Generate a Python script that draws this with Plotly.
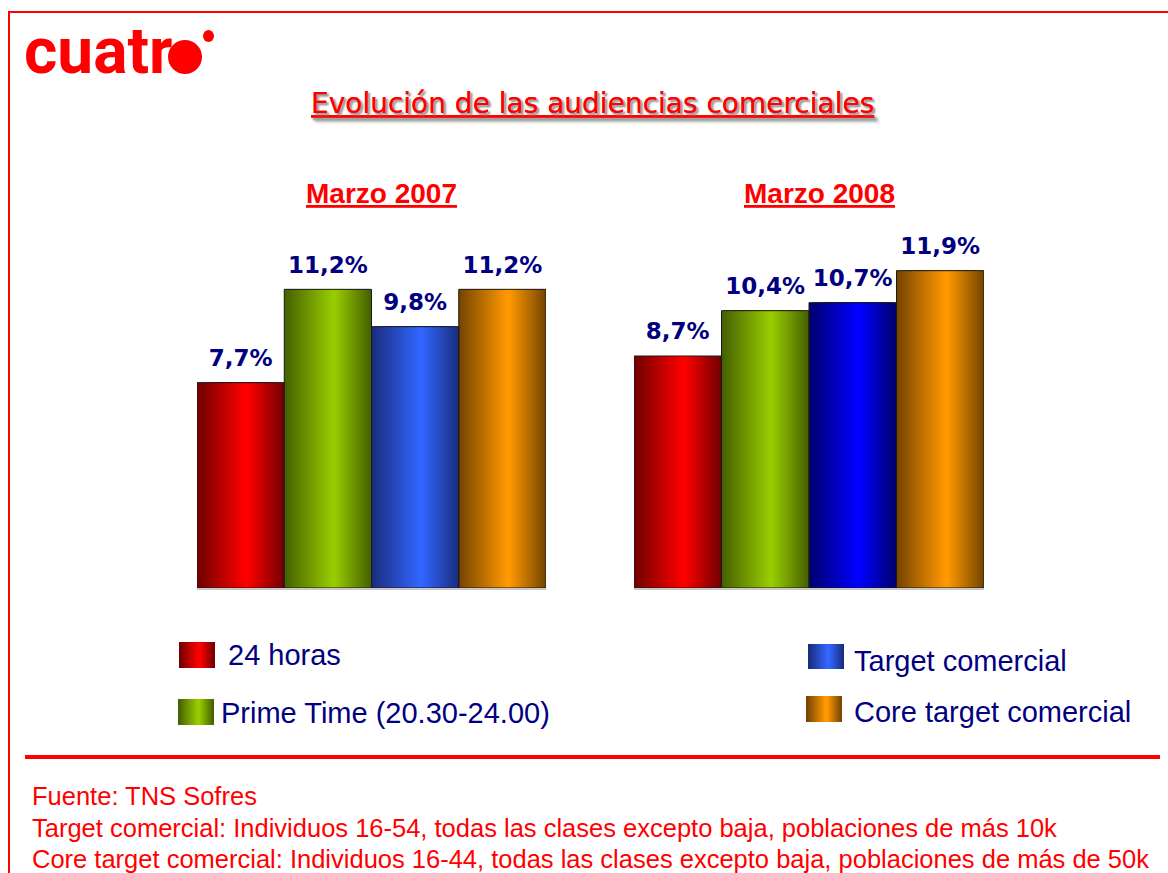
import plotly.graph_objects as go

W, H = 1168, 873

# ---------------- data ----------------
categories = ["24 horas", "Prime Time (20.30-24.00)", "Target comercial", "Core target comercial"]
values_2007 = [7.7, 11.2, 9.8, 11.2]
values_2008 = [8.7, 10.4, 10.7, 11.9]
period_titles = ["Marzo 2007", "Marzo 2008"]
footer_lines = [
    "Fuente: TNS Sofres",
    "Target comercial: Individuos 16-54, todas las clases excepto baja, poblaciones de más 10k",
    "Core target comercial: Individuos 16-44, todas las clases excepto baja, poblaciones de más de 50k",
]

# gradient colours (edge, centre) per series
dark_2007 = [(115, 0, 0), (70, 98, 0), (26, 46, 128), (120, 70, 0)]
bright_2007 = [(255, 0, 0), (153, 204, 0), (51, 102, 255), (255, 153, 0)]
dark_2008 = [(115, 0, 0), (70, 98, 0), (0, 0, 112), (120, 70, 0)]
bright_2008 = [(255, 0, 0), (153, 204, 0), (0, 0, 255), (255, 153, 0)]

RED = "#ff0000"
NAVY = "#000080"


def px(x):
    return x / W


def py(y):
    return 1 - y / H


def mix(a, b, t):
    return "rgb(%d,%d,%d)" % tuple(round(a[i] + (b[i] - a[i]) * t) for i in range(3))


def fmt(v):
    return ("%.1f" % v).replace(".", ",") + "%"


fig = go.Figure()

N = 22
CEN = 0.57
for vals, darks, brights, xa, ya in [
    (values_2007, dark_2007, bright_2007, "x", "y"),
    (values_2008, dark_2008, bright_2008, "x2", "y2"),
]:
    for k in range(N):
        t = k / (N - 1)
        a = CEN * k / N
        b = 1 - (1 - CEN) * k / N
        fig.add_trace(go.Bar(
            x=categories, y=vals,
            width=[b - a] * len(vals), offset=[a - 0.5] * len(vals),
            marker=dict(color=[mix(d, br, t) for d, br in zip(darks, brights)], line=dict(width=0)),
            xaxis=xa, yaxis=ya, hoverinfo="skip", showlegend=False,
        ))
    # outline
    fig.add_trace(go.Bar(
        x=categories, y=vals, width=[1] * len(vals), offset=[-0.5] * len(vals),
        marker=dict(color="rgba(0,0,0,0)", line=dict(color="#1a1a1a", width=1)),
        xaxis=xa, yaxis=ya, showlegend=False,
    ))
    # value labels
    fig.add_trace(go.Scatter(
        x=categories, y=vals, mode="markers+text",
        text=[fmt(v) for v in vals], textposition="top center",
        marker=dict(size=16, opacity=0),
        textfont=dict(family="DejaVu Sans", size=23, color=NAVY, weight="bold"),
        cliponaxis=False, xaxis=xa, yaxis=ya, showlegend=False, hoverinfo="skip",
    ))

ydom = [py(588), py(228)]
axis_x = dict(showticklabels=False, showgrid=False, zeroline=False, showline=True,
              linecolor="#c8c8c8", linewidth=2, ticks="", fixedrange=True)
axis_y = dict(visible=False, range=[0, 13.5], domain=ydom, fixedrange=True)

fig.update_layout(
    width=W, height=H, margin=dict(l=0, r=0, t=0, b=0),
    paper_bgcolor="white", plot_bgcolor="white",
    barmode="overlay", showlegend=False,
    xaxis=dict(domain=[px(197), px(546)], anchor="y", **axis_x),
    yaxis=dict(anchor="x", **axis_y),
    xaxis2=dict(domain=[px(634), px(984)], anchor="y2", **axis_x),
    yaxis2=dict(anchor="x2", **axis_y),
)

ann = []
shapes = []

# frame
shapes.append(dict(type="rect", xref="paper", yref="paper", x0=px(9), x1=1.02, y0=-0.02, y1=py(12),
                   line=dict(color=RED, width=2), fillcolor="rgba(0,0,0,0)", layer="below"))
# separator
shapes.append(dict(type="line", xref="paper", yref="paper", x0=px(25), x1=px(1160), y0=py(757), y1=py(757),
                   line=dict(color=RED, width=4)))

# logo
ann.append(dict(text="cuatr", x=px(22), y=py(51), xanchor="left", yanchor="middle",
                font=dict(family="Roboto", size=64, color=RED, weight="bold")))
shapes.append(dict(type="circle", xref="paper", yref="paper", x0=px(168), x1=px(202), y0=py(74), y1=py(40),
                   fillcolor=RED, line=dict(width=0)))
shapes.append(dict(type="circle", xref="paper", yref="paper", x0=px(203), x1=px(214), y0=py(42), y1=py(30),
                   fillcolor=RED, line=dict(width=0)))

# title
ann.append(dict(text="<u>Evolución de las audiencias comerciales</u>", x=px(592), y=py(103),
                xanchor="center", yanchor="middle",
                font=dict(family="DejaVu Sans", size=28, color=RED, shadow="2px 2px 2px #a0a0a0")))

# period headers
for t, cx in zip(period_titles, [381, 819]):
    ann.append(dict(text="<u>" + t + "</u>", x=px(cx), y=py(193), xanchor="center", yanchor="middle",
                    font=dict(family="Liberation Sans", size=28, color=RED, weight="bold")))

# legend
legend_spec = [
    (0, 179, 642, 668, 226, 655),
    (1, 178, 699, 725, 219, 713),
    (2, 808, 644, 669, 852, 661),
    (3, 806, 696, 722, 852, 712),
]
M = 10
for idx, sx, sy0, sy1, tx, ty in legend_spec:
    d, br = dark_2007[idx], bright_2007[idx]
    sw = 36
    for k in range(M):
        t = k / (M - 1)
        a = CEN * k / M
        b = 1 - (1 - CEN) * k / M
        shapes.append(dict(type="rect", xref="paper", yref="paper",
                           x0=px(sx + a * sw), x1=px(sx + b * sw), y0=py(sy1), y1=py(sy0),
                           fillcolor=mix(d, br, t), line=dict(width=0)))
    ann.append(dict(text=categories[idx], x=px(tx), y=py(ty), xanchor="left", yanchor="middle",
                    font=dict(family="Liberation Sans", size=29, color=NAVY)))

# footer
for line, cy in zip(footer_lines, [796, 828, 859]):
    ann.append(dict(text=line, x=px(30), y=py(cy), xanchor="left", yanchor="middle",
                    font=dict(family="Liberation Sans", size=25.5, color=RED)))

for a in ann:
    a.update(xref="paper", yref="paper", showarrow=False)

fig.update_layout(annotations=ann, shapes=shapes)

fig.write_html("out.html", config={"displayModeBar": False},
               post_script="document.body.style.margin='0';document.body.style.overflow='hidden';")
